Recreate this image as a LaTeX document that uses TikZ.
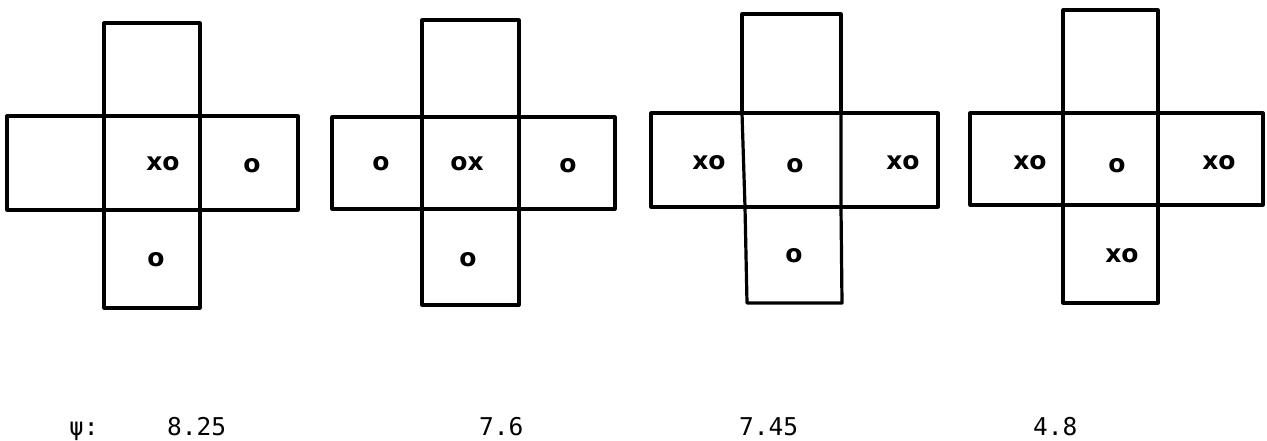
\documentclass[tikz,border=0pt]{standalone}
\usepackage{fontspec}
\newfontfamily\markfont{DejaVu Sans Bold}
\newfontfamily\labfont{DejaVu Sans Mono}
\begin{document}
\begin{tikzpicture}[x=1pt,y=-1pt,
  cell/.style={draw=black,line width=3.2pt,line join=round,line cap=round},
  xomark/.style={font=\markfont\fontsize{25}{25}\selectfont,inner sep=0pt},
  lab/.style={font=\labfont\fontsize{24.5}{24.5}\selectfont,inner sep=0pt,anchor=base west}]
\useasboundingbox[fill=white] (0,0) rectangle (1267,440);
% cross 1
\draw[cell] (104,23) rectangle (200,308);
\draw[cell] (7,116) rectangle (298,210);
% cross 2
\draw[cell] (422,20) rectangle (519,305);
\draw[cell] (332,117) rectangle (615,209);
% cross 3
\draw[cell] (742,14) rectangle (841,113);
\draw[cell] (651,113) rectangle (938,207);
\draw[cell] (742,113) -- (745,207) -- (747,303) -- (842,303) -- (841,207) -- (841,113);
% cross 4
\draw[cell] (1063,10) rectangle (1158,303);
\draw[cell] (970,113) rectangle (1263,205);
% marks
\node[xomark] (a1) at (163,164) {xo};
\node[xomark] (a2) at (252,166) {o};
\node[xomark] (a3) at (156,260) {o};
\node[xomark] (b1) at (381,164) {o};
\node[xomark] (b2) at (467,164) {ox};
\node[xomark] (b3) at (568,166) {o};
\node[xomark] (b4) at (468,260) {o};
\node[xomark] (c1) at (709,163) {xo};
\node[xomark] (c2) at (795,166) {o};
\node[xomark] (c3) at (903,163) {xo};
\node[xomark] (c4) at (794,256) {o};
\node[xomark] (d1) at (1030,163) {xo};
\node[xomark] (d2) at (1117,166) {o};
\node[xomark] (d3) at (1219,163) {xo};
\node[xomark] (d4) at (1122,256) {xo};
% labels
\node[lab] (psi) at (69,435) {ψ:};
\node[lab] (v1) at (167,435) {8.25};
\node[lab] (v2) at (479,435) {7.6};
\node[lab] (v3) at (739,435) {7.45};
\node[lab] (v4) at (1033,435) {4.8};
\end{tikzpicture}
\end{document}
